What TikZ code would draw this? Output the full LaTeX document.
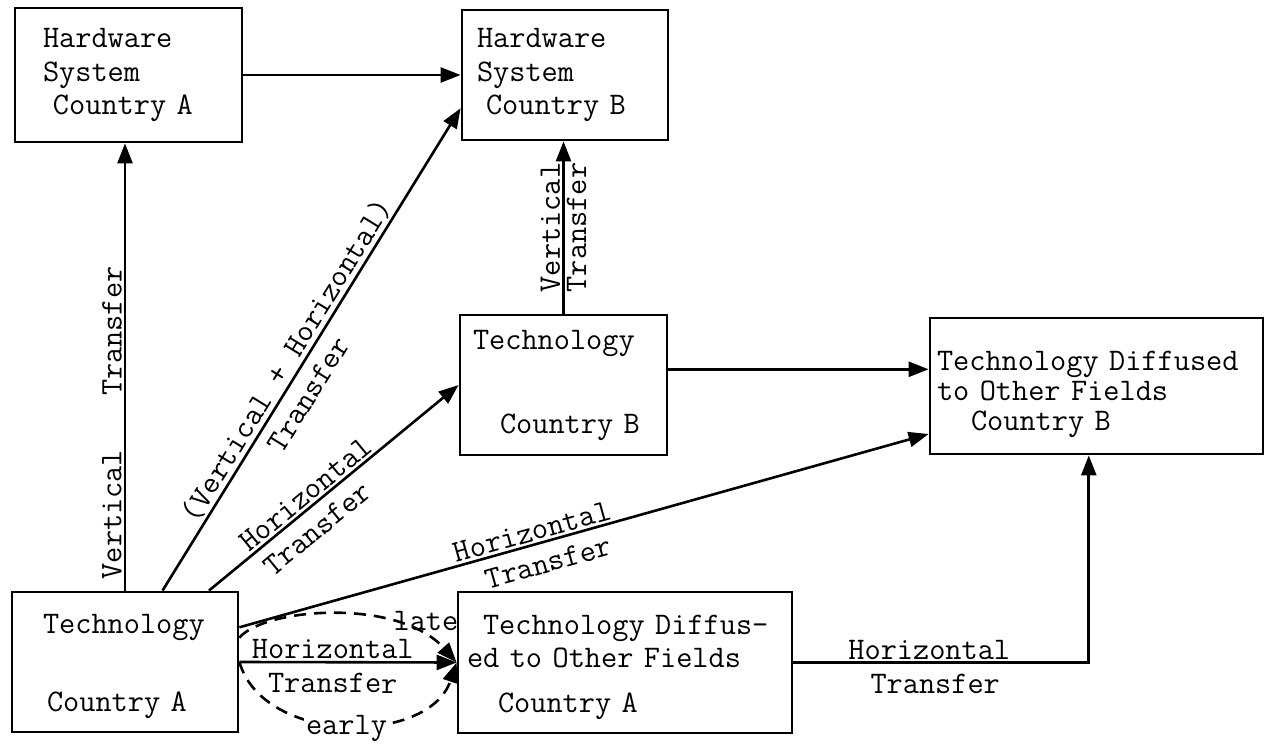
\documentclass[tikz,border=0pt]{standalone}
\usepackage{fontspec}
\usetikzlibrary{arrows.meta, calc}
\newcommand{\typefont}{\ttfamily\fontsize{15.7}{16.75}\selectfont
  \fontdimen2\font=8.25pt\relax\fontdimen3\font=0pt\relax\fontdimen4\font=0pt\relax}

\begin{document}
\begin{tikzpicture}[x=0.5pt, y=-0.5pt,
  every node/.style={font=\typefont},
  box/.style={draw, line width=1.4pt, inner xsep=0pt, inner ysep=0pt, align=left},
  arr/.style={line width=1.3pt, -{Triangle[length=10pt, width=7.5pt]}},
  lblup/.style={sloped, above, inner sep=1pt},
  lbldn/.style={sloped, below=4pt, inner sep=1pt},
  dashline/.style={dash pattern=on 6pt off 4pt}]
  \useasboundingbox (0,0) rectangle (1280,748);

  % boxes
  \node[box, text width=113.5pt, minimum height=67pt] (ha) at (128.5,75)
    {\hspace*{14pt}Hardware\\\hspace*{14pt}System\\\hspace*{19pt}Country A};
  \node[box, text width=103pt, minimum height=65pt] (hb) at (565,75)
    {\hspace*{7.5pt}Hardware\\\hspace*{7.5pt}System\\\hspace*{12pt}Country B};
  \node[box, text width=103.5pt, minimum height=70pt] (tb) at (563.5,385)
    {\hspace*{6.5pt}Technology\\[25.25pt]\hspace*{20pt}Country B};
  \node[box, text width=166.5pt, minimum height=68pt] (tdb) at (1096.5,386)
    {\rule{0pt}{18.5pt}\hspace*{3.5pt}Technology Diffused\\[-1.75pt]
     \hspace*{3.5pt}to Other Fields\\[-1.75pt]\hspace*{20.5pt}Country B};
  \node[box, text width=113pt, minimum height=70pt] (ta) at (125,662)
    {\rule{0pt}{14.5pt}\hspace*{15.5pt}Technology\\[22.25pt]\hspace*{17.5pt}Country A};
  \node[box, text width=167pt, minimum height=70.5pt] (tda) at (625,662.5)
    {\rule{0pt}{14.5pt}\hspace*{12.5pt}Technology Diffus-\\
     \hspace*{4.5pt}ed to Other Fields\\[5.75pt]\hspace*{20pt}Country A};

  % end points on the box sides
  \coordinate (ta1) at ($(ta.north west)!0.664!(ta.north east)$);
  \coordinate (ta2) at ($(ta.north west)!0.867!(ta.north east)$);
  \coordinate (ta3) at ($(ta.north east)!0.257!(ta.south east)$);
  \coordinate (talate) at ($(ta.north east)!0.33!(ta.south east)$);
  \coordinate (hbin) at ($(hb.north west)!0.75!(hb.south west)$);
  \coordinate (tdbin) at ($(tdb.north west)!0.846!(tdb.south west)$);
  \coordinate (tbout) at ($(tb.north east)!0.39!(tb.south east)$);
  \coordinate (tdbup) at ($(tdb.south west)!0.477!(tdb.south east)$);

  % vertical transfers
  \draw[arr] (ta.north) -- (ta.north |- ha.south)
    node[lblup, pos=0.17] (vta) {Vertical} node[lblup, pos=0.58] (vtb) {Transfer};
  \draw[arr] (tb.north) -- (tb.north |- hb.south)
    node[lblup, pos=0.5] (vtc) {Vertical} node[sloped, below, inner sep=1pt, pos=0.5] (vtd) {Transfer};
  \draw[arr] (ha.east) -- (hb.west);

  % transfers out of technology A
  \draw[arr] (ta1) -- (hbin)
    node[lblup, pos=0.46] (vh1) {(Vertical + Horizontal)} node[lbldn, pos=0.43] (vh2) {Transfer};
  \draw[arr] (ta2) -- (tb.west)
    node[lblup, pos=0.42] (ht1) {Horizontal} node[lbldn, pos=0.38] (ht2) {Transfer};
  \draw[arr] (ta3) -- (tdbin)
    node[lblup, pos=0.43] (ht3) {Horizontal} node[lbldn, pos=0.44] (ht4) {Transfer};
  \draw[arr] (ta.east) -- (tda.west)
    node[lblup, pos=0.43] (ht5) {Horizontal} node[lbldn, pos=0.43] (ht6) {Transfer};

  % late / early
  \draw[arr, dashline] (talate) .. controls +(25,-30) and +(-58,-65) .. (tda.west)
    node[pos=0.85, anchor=south, inner sep=0pt, yshift=3pt] (late) {late};
  \draw[arr, dashline] (ta.east) .. controls +(24,83) and +(-28,83) .. (tda.west)
    node[pos=0.5, fill=white, inner sep=1pt, yshift=-2pt] (early) {early};

  % into technology B fields
  \draw[arr] (tbout) -- (tbout -| tdb.west);
  \draw[arr] (tda.east) -| (tdbup)
    node[lblup, pos=0.23] (ht7) {Horizontal} node[lbldn, pos=0.24] (ht8) {Transfer};
\end{tikzpicture}
\end{document}
